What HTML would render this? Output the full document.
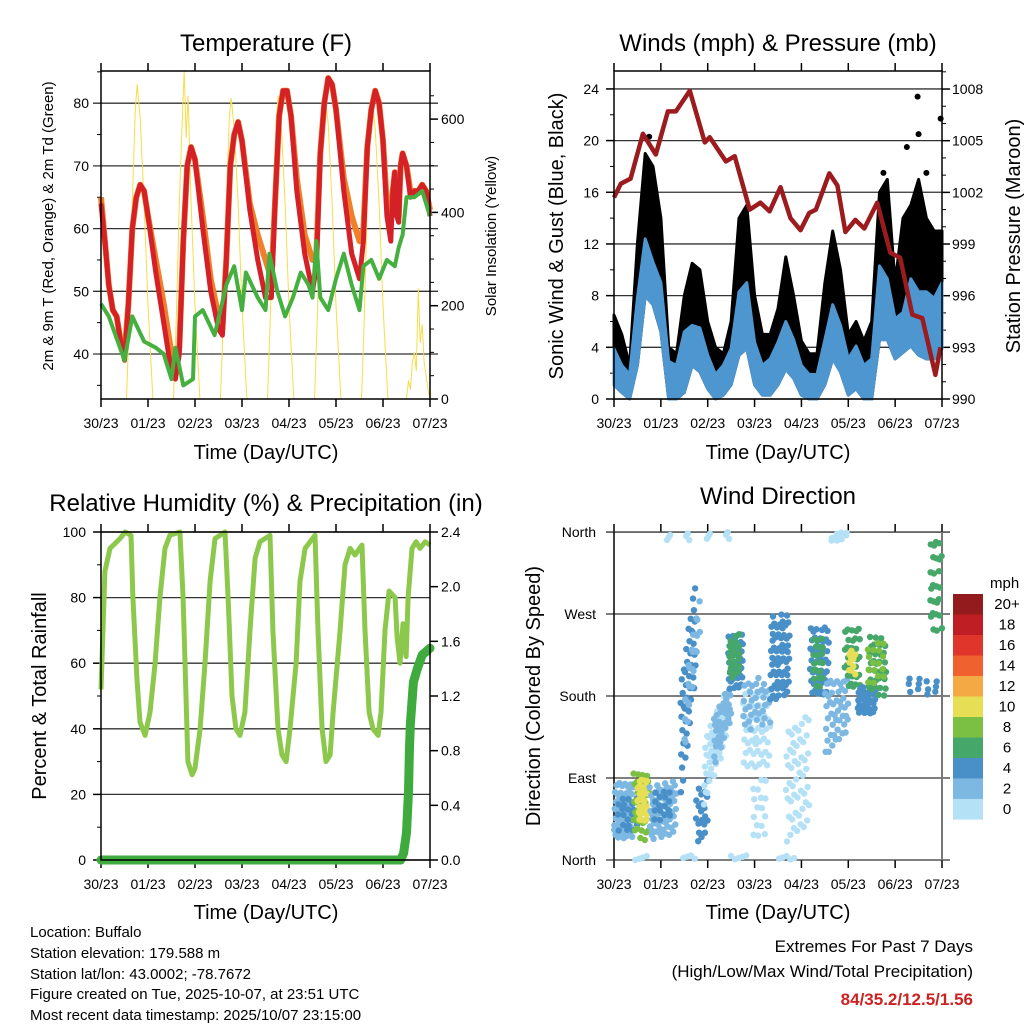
<!DOCTYPE html>
<html><head><meta charset="utf-8">
<style>
html,body{margin:0;padding:0;background:#fff;}
svg{display:block;font-family:"Liberation Sans",sans-serif;}
</style></head>
<body>
<svg id="chart" width="1024" height="1024" viewBox="0 0 1024 1024" xmlns="http://www.w3.org/2000/svg">
<rect width="1024" height="1024" fill="#fff"/>
<text x="266" y="51" font-size="24" text-anchor="middle">Temperature (F)</text>
<text x="778" y="51" font-size="24" text-anchor="middle">Winds (mph) &amp; Pressure (mb)</text>
<text x="266" y="511" font-size="24" text-anchor="middle">Relative Humidity (%) &amp; Precipitation (in)</text>
<text x="778" y="504" font-size="24" text-anchor="middle">Wind Direction</text>
<text x="266" y="459" font-size="20" text-anchor="middle">Time (Day/UTC)</text>
<text x="778" y="459" font-size="20" text-anchor="middle">Time (Day/UTC)</text>
<text x="266" y="919" font-size="20" text-anchor="middle">Time (Day/UTC)</text>
<text x="778" y="919" font-size="20" text-anchor="middle">Time (Day/UTC)</text>
<text transform="translate(53,226) rotate(-90)" font-size="15" text-anchor="middle">2m &amp; 9m T (Red, Orange) &amp; 2m Td (Green)</text>
<text transform="translate(496,236) rotate(-90)" font-size="15" text-anchor="middle">Solar Insolation (Yellow)</text>
<text transform="translate(563,236) rotate(-90)" font-size="20" text-anchor="middle">Sonic Wind &amp; Gust (Blue, Black)</text>
<text transform="translate(1020,236) rotate(-90)" font-size="20" text-anchor="middle">Station Pressure (Maroon)</text>
<text transform="translate(46,696) rotate(-90)" font-size="20" text-anchor="middle">Percent &amp; Total Rainfall</text>
<text transform="translate(540,696) rotate(-90)" font-size="20" text-anchor="middle">Direction (Colored By Speed)</text>
<g font-size="15">
<text x="30" y="937">Location: Buffalo</text>
<text x="30" y="958">Station elevation: 179.588 m</text>
<text x="30" y="979">Station lat/lon: 43.0002; -78.7672</text>
<text x="30" y="999">Figure created on Tue, 2025-10-07, at 23:51 UTC</text>
<text x="30" y="1020">Most recent data timestamp: 2025/10/07 23:15:00</text>
</g>
<g font-size="17" text-anchor="end">
<text x="973" y="952">Extremes For Past 7 Days</text>
<text x="973" y="977">(High/Low/Max Wind/Total Precipitation)</text>
<text x="973" y="1005" font-weight="bold" fill="#cc2222">84/35.2/12.5/1.56</text>
</g>
<g id="layer"></g>
</svg>
<script>
// ---------- data ----------
const dayLabels = ["30/23","01/23","02/23","03/23","04/23","05/23","06/23","07/23"];
const redT = [0,2,4,6,8,10,12,14,16,18,20,22,24,28,32,36,38,40,42,44,46,48,52,56,60,62,64,66,68,70,72,76,80,84,87,89,91,93,95,97,100,104,108,110,112,114,116,118,120,124,128,132,134,136,138,140,142,144,146,148,149,150,151,152,153,154,156,158,160,162,164,166,168];
const redV = [64,58,51,47,46,42,39,48,60,65,67,66,62,53,45,37,36,40,58,70,73,71,60,50,44,43,55,70,75,77,74,63,55,49,49,65,78,82,82,78,66,56,50,54,72,80,84,83,79,66,56,52,58,73,79,82,80,74,62,58,66,69,62,61,70,72,70,65,66,66,67,66,62];
const orangeV = [65,58,51,47,46,42,40,48,60,65,67,66,62,55,48,40,38,41,58,70,73,71,62,52,46,44,55,70,75,77,74,64,59,55,52,65,78,82,82,78,68,59,55,56,72,80,84,83,79,68,62,58,60,73,79,82,80,74,64,62,66,69,63,62,70,72,70,66,66,66,67,66,63];
const greenT = [0,4,12,16,22,28,32,36,38,42,47,48,52,58,64,68,72,74,80,84,86,90,94,98,102,106,108,110,112,116,120,124,128,132,134,138,142,146,150,152,154,156,160,164,168];
const greenV = [48,46,39,46,42,41,40,36,41,35,36,46,47,43,51,54,47,53,49,47,56,50,46,49,53,51,49,58,49,47,52,56,51,47,54,55,52,55,54,57,59,65,65,66,62];
const solarT = [0,13,14.5,16,17.5,18.5,20,22,24,26.5,37,38.5,40,41.5,42.5,43.5,44.5,46,48,50.5,61,62.5,64,65.5,66.5,68,70,72,74.5,85,86.5,88,89.5,90.5,92,94,96,98.5,109,110.5,112,113.5,114.5,116,118,120,122.5,133,134.5,136,137.5,138.5,140,142,144,146.5,156,157,158,159,160,161,162,163,164,165,166,167,168];
const solarV = [0,0,180,420,620,675,600,420,200,0,0,180,420,600,705,560,650,420,200,0,0,180,420,600,645,580,420,200,0,0,180,420,600,650,590,420,200,0,0,180,420,600,650,590,420,200,0,0,180,420,600,640,580,420,200,0,0,40,20,80,100,60,238,120,160,80,50,20,0];
const windT = [0,4,8,12,16,20,24,28,32,36,40,44,48,52,56,60,64,68,72,76,80,84,88,92,96,100,104,108,112,116,120,124,128,132,136,140,144,148,152,156,160,164,168];
const windHi = [3.9,2.6,1.9,7.8,12.4,10.6,9,2.9,2.6,5.2,5.7,5.5,3.4,1.9,2.6,3.9,8.3,9,4.4,2.6,3.1,4.4,6,4.6,2.6,1.9,1.9,4.6,7.3,5.7,3.1,4.1,2.6,3.1,10.3,9.3,6.2,6.7,9.3,8.3,8.3,7.8,9];
const windLo = [1.1,0.5,0,2.6,8,7.3,5.2,0,0,0.5,2.6,2.1,0.8,0,0.3,1.1,3.4,3.9,1.1,0.3,0.3,1.1,2.3,1.6,0.3,0,0,1.1,3.1,2.1,0.3,0.8,0,0,4.6,4.6,3.1,3.6,4.1,3.4,3.1,3.1,3.9];
const gustHi = [6.5,5,2.6,12,19,18,14,4,3.5,8,10.5,10,6,4,3.5,6,14,15,8,5,5,7,11,8,4.5,3.5,3.5,9,13,10,5,6,4.5,6,16,17,9,14,15,17,14,13,13];
const gustOutT = [18,150,155.5,156,160,167.3,138];
const gustOutV = [20.3,19.5,23.4,20.5,17.5,21.7,17.5];
const presT = [0,3.5,8.5,14.8,21.4,27.6,31.7,38.8,46.5,49,57.3,61.8,69.5,75,79.7,85.3,90.4,95.5,100,103.4,110.3,114.4,118.5,123.6,128.2,134.8,141.5,146.6,152.8,157.9,164.6,167.2];
const presV = [1001.7,1002.5,1002.8,1005.4,1004.2,1006.7,1006.7,1007.9,1004.9,1005.2,1003.8,1004.1,1001,1001.4,1000.9,1002.3,1000.5,999.8,1000.8,1001,1003.1,1002.4,999.7,1000.4,999.9,1001.4,998.5,998.2,994.9,994.7,991.4,993];
const rhT = [0,2,4.6,9.7,12.3,15.3,16.3,18.4,19.9,22.5,25,27.6,30.1,32.7,35.2,40.3,41.9,43.4,44.4,46.5,48,50.6,53.1,55.7,58.2,63.3,64.9,66.9,68.9,71,73.5,76.1,78.7,81.2,86.3,87.8,90.4,92.4,94.5,96.5,99.6,101.6,104.2,109.3,110.8,112.9,114.9,117,118.5,122.1,124.6,127.2,129.7,133.3,134.8,136.9,138.9,141.5,143,145,147.1,150.2,151.2,152.7,154.2,155.3,155.8,156.8,158.8,160.9,162.9,165.5,168];
const rhV = [52,88,95,98,100,99,80,55,42,38,45,60,80,95,99,100,80,50,30,26,28,40,60,85,98,100,80,50,40,38,45,70,92,97,99,70,40,32,30,40,60,85,95,99,70,40,30,32,45,70,90,95,93,96,70,45,40,38,45,70,82,80,68,60,72,65,62,80,95,97,95,97,96];
const precT = [0,153,154.5,156,157,157.5,158,159.5,161.5,164,168];
const precV = [0,0,0.05,0.2,0.5,0.8,1.0,1.3,1.4,1.5,1.55];
// wind direction clusters (time start/end hours, direction bounds deg, speed mph, point count)
const cT0  = [0,2,10,12,18,20,34,36,42,46,50,58,59,66,66,70,80,88,100,102,108,118,120,124,130,130,162,20,110,0,150];
const cT1  = [10,12,18,17,32,30,42,44,48,58,60,66,65,80,80,78,90,100,110,108,120,126,124,134,140,140,168,60,120,100,168];
const cLo0 = [20,30,25,40,20,40,60,110,10,60,90,185,200,100,140,20,175,10,180,190,110,190,200,160,180,190,250,350,350,0,180];
const cHi0 = [85,70,95,90,80,75,200,180,80,130,150,250,240,190,200,90,270,140,260,250,200,260,230,190,245,240,360,360,360,5,200];
const cLo1 = [20,30,20,40,30,40,200,250,30,130,150,190,200,100,150,20,180,30,180,190,140,190,200,160,180,190,250,350,350,0,180];
const cHi1 = [85,70,95,90,90,75,320,300,90,190,200,255,250,190,200,90,270,160,260,250,200,260,230,195,245,240,360,360,360,5,200];
const cSpd = [2,4,8,10,2,4,4,2,4,0,2,4,6,0,2,0,4,0,4,6,2,6,10,4,6,8,6,0,0,0,4];
const cN   = [55,20,40,32,60,16,45,25,20,55,32,40,26,50,32,16,60,50,45,20,45,32,10,32,32,16,26,12,10,18,12];
const speedBins = ["20+","18","16","14","12","10","8","6","4","2","0"];
const speedColors = ["#931a1d","#bf1e24","#e0352a","#ef6230","#f5a945","#e6de55","#7cc043","#46a76a","#4a90c8","#7db8e3","#b5e1f7"];

// ---------- scales ----------
const NS="http://www.w3.org/2000/svg";
const layer=document.getElementById('layer');
const xT=h=>101+h*329/168;
const xW=h=>614+h*328/168;
const yTemp=v=>354-(v-40)*6.27;
const ySol=s=>399-s*0.4665;
const yWind=v=>399-v*12.92;
const yPres=p=>399-(p-990)*17.22;
const yRH=v=>860-v*3.28;
const yPrec=p=>860-p*136.67;
const yDir=d=>860-d*0.911;
function mk(tag,parent){const e=document.createElementNS(NS,tag);(parent||layer).appendChild(e);return e;}
function pathFrom(ts,vs,fx,fy){return ts.map((t,i)=>(i?'L':'M')+fx(t).toFixed(1)+','+fy(vs[i]).toFixed(1)).join('');}
function ln(x1,y1,x2,y2,col,w,p){const e=mk('line',p);e.setAttribute('x1',x1);e.setAttribute('y1',y1);e.setAttribute('x2',x2);e.setAttribute('y2',y2);e.setAttribute('stroke',col);e.setAttribute('stroke-width',w);return e;}
function tx(x,y,s,anchor,size,p){const e=mk('text',p);e.setAttribute('x',x);e.setAttribute('y',y);e.setAttribute('text-anchor',anchor);e.setAttribute('font-size',size);e.textContent=s;return e;}

function frame(x0,x1,y0,y1,fx,name){
  const g=mk('g');
  
  
  for(let d=0;d<=7;d++){
    const x=fx(d*24);
    const t=ln(x,y1,x,y1+8,'#000',1.5,g);
    
    
    ln(x,y0,x,y0-8,'#000',1.5,g);
    const l=tx(x,y1+29,dayLabels[d],'middle',14,g);
    
    
  }
  return g;
}
function hgrid(g,ys,x0,x1,ext){ys.forEach(y=>{const l=ln(x0-ext,y,x1+ext,y,'#333',1.3,g);});}

// ===== Temperature panel =====
(function(){
  const g=frame(71,399,71,399,xT,'temperature');
  const ticks=[40,50,60,70,80];
  hgrid(g,ticks.map(yTemp),101,430,8);
  ticks.forEach(v=>{const l=tx(89,yTemp(v)+5,String(v),'end',14,g);});
  [35,45,55,65,75,85].forEach(v=>ln(97,yTemp(v),101,yTemp(v),'#000',1,g));
  [0,200,400,600].forEach(v=>{ln(430,ySol(v),438,ySol(v),'#000',1.5,g);const l=tx(441,ySol(v)+5,String(v),'start',14,g);});
  [50,100,150,250,300,350,450,500,550,650].forEach(v=>ln(430,ySol(v),434,ySol(v),'#000',1,g));
  const sol=mk('path');sol.setAttribute('d',pathFrom(solarT,solarV,xT,ySol));sol.setAttribute('fill','none');sol.setAttribute('stroke','#f7dc4a');sol.setAttribute('stroke-width','1');
  
  
  const o=mk('path');o.setAttribute('d',pathFrom(redT,orangeV,xT,yTemp));o.setAttribute('fill','none');o.setAttribute('stroke','#f07f2a');o.setAttribute('stroke-width','6');o.setAttribute('stroke-linejoin','round');
  
  
  const r=mk('path');r.setAttribute('d',pathFrom(redT,redV,xT,yTemp));r.setAttribute('fill','none');r.setAttribute('stroke','#d42027');r.setAttribute('stroke-width','5');r.setAttribute('stroke-linejoin','round');
  
  
  const gr=mk('path');gr.setAttribute('d',pathFrom(greenT,greenV,xT,yTemp));gr.setAttribute('fill','none');gr.setAttribute('stroke','#45b03f');gr.setAttribute('stroke-width','4');gr.setAttribute('stroke-linejoin','round');
  
  
  const b=mk('rect');b.setAttribute('x',101);b.setAttribute('y',71);b.setAttribute('width',329);b.setAttribute('height',328);b.setAttribute('fill','none');b.setAttribute('stroke','#000');b.setAttribute('stroke-width','1.5');
  
  
})();

// ===== Winds panel =====
(function(){
  const g=frame(71,399,71,399,xW,'winds');
  const ticks=[0,4,8,12,16,20,24];
  hgrid(g,ticks.map(yWind),614,942,0);
  ticks.forEach(v=>{ln(606,yWind(v),614,yWind(v),'#000',1.5,g);const l=tx(599,yWind(v)+5,String(v),'end',14,g);});
  [2,6,10,14,18,22].forEach(v=>ln(610,yWind(v),614,yWind(v),'#000',1,g));
  [990,993,996,999,1002,1005,1008].forEach(v=>{ln(942,yPres(v),950,yPres(v),'#000',1.5,g);const l=tx(952,yPres(v)+5,String(v),'start',14,g);});
  for(let v=991;v<1010;v++){if((v-990)%3)ln(942,yPres(v),946,yPres(v),'#000',1,g);}
  let d='M'+windT.map((t,i)=>xW(t).toFixed(1)+','+yWind(gustHi[i]).toFixed(1)).join('L');
  for(let i=windT.length-1;i>=0;i--)d+='L'+xW(windT[i]).toFixed(1)+','+yWind(windLo[i]).toFixed(1);
  const gb=mk('path');gb.setAttribute('d',d+'Z');gb.setAttribute('fill','#000');gb.setAttribute('stroke','#000');gb.setAttribute('stroke-width','3');gb.setAttribute('stroke-linejoin','round');
  
  
  gustOutT.forEach((t,i)=>{const c=mk('circle');c.setAttribute('cx',xW(t));c.setAttribute('cy',yWind(gustOutV[i]));c.setAttribute('r',3);c.setAttribute('fill','#000');
    
    });
  let d2='M'+windT.map((t,i)=>xW(t).toFixed(1)+','+yWind(windHi[i]).toFixed(1)).join('L');
  for(let i=windT.length-1;i>=0;i--)d2+='L'+xW(windT[i]).toFixed(1)+','+yWind(windLo[i]).toFixed(1);
  const wb=mk('path');wb.setAttribute('d',d2+'Z');wb.setAttribute('fill','#4e96d0');wb.setAttribute('stroke','#4e96d0');wb.setAttribute('stroke-width','3');wb.setAttribute('stroke-linejoin','round');
  
  
  const p=mk('path');p.setAttribute('d',pathFrom(presT,presV,xW,yPres));p.setAttribute('fill','none');p.setAttribute('stroke','#9b1b1e');p.setAttribute('stroke-width','4.5');p.setAttribute('stroke-linejoin','round');
  
  
  const b=mk('rect');b.setAttribute('x',614);b.setAttribute('y',71);b.setAttribute('width',328);b.setAttribute('height',328);b.setAttribute('fill','none');b.setAttribute('stroke','#000');b.setAttribute('stroke-width','1.5');
  
  
})();

// ===== RH panel =====
(function(){
  const g=frame(532,860,532,860,xT,'humidity');
  const ticks=[0,20,40,60,80,100];
  hgrid(g,ticks.map(yRH),101,430,0);
  ticks.forEach(v=>{ln(93,yRH(v),101,yRH(v),'#000',1.5,g);const l=tx(86,yRH(v)+5,String(v),'end',14,g);});
  [10,30,50,70,90].forEach(v=>ln(97,yRH(v),101,yRH(v),'#000',1,g));
  [0,0.4,0.8,1.2,1.6,2.0,2.4].forEach(v=>{ln(430,yPrec(v),438,yPrec(v),'#000',1.5,g);const l=tx(441,yPrec(v)+5,v.toFixed(1),'start',14,g);});
  const r=mk('path');r.setAttribute('d',pathFrom(rhT,rhV,xT,yRH));r.setAttribute('fill','none');r.setAttribute('stroke','#8cc84b');r.setAttribute('stroke-width','5');r.setAttribute('stroke-linejoin','round');
  
  
  const pr=mk('path');pr.setAttribute('d',pathFrom(precT,precV,xT,yPrec));pr.setAttribute('fill','none');pr.setAttribute('stroke','#3faa3d');pr.setAttribute('stroke-width','9');pr.setAttribute('stroke-linejoin','round');pr.setAttribute('stroke-linecap','round');
  
  
  const b=mk('rect');b.setAttribute('x',101);b.setAttribute('y',532);b.setAttribute('width',329);b.setAttribute('height',328);b.setAttribute('fill','none');b.setAttribute('stroke','#000');b.setAttribute('stroke-width','1.5');
  
  
})();

// ===== Wind direction panel =====
(function(){
  const g=frame(532,860,532,860,xW,'direction');
  const dirs=[[0,'North'],[90,'East'],[180,'South'],[270,'West'],[360,'North']];
  hgrid(g,dirs.map(d=>yDir(d[0])),606,950,0);
  dirs.forEach(d=>{const l=tx(596,yDir(d[0])+5,d[1],'end',14,g);});
  ln(614,532,614,860,'#000',1.5,g);
  ln(942,532,942,860,'#777',2,g);
  const pts=mk('g');
  
  
  for(let c=0;c<cT0.length;c++){
    const col=speedColors[10-cSpd[c]/2];
    const n=cN[c];
    for(let k=0;k<n;k++){
      const u=((k+1)*0.7548777+c*0.21)%1, v=((k+1)*0.5698403+c*0.37)%1;
      const t=cT0[c]+u*(cT1[c]-cT0[c]);
      const lo=cLo0[c]+(cLo1[c]-cLo0[c])*u, hi=cHi0[c]+(cHi1[c]-cHi0[c])*u;
      const dd=lo+v*(hi-lo);
      const e=mk('circle',pts);e.setAttribute('cx',xW(t).toFixed(1));e.setAttribute('cy',yDir(dd).toFixed(1));e.setAttribute('r','3.2');e.setAttribute('fill',col);
      
      
    }
  }
  const lg=mk('g');
  
  
  const lt=tx(990,588,'mph','start',15,lg);
  speedBins.forEach((s,i)=>{
    const r=mk('rect',lg);r.setAttribute('x',953);r.setAttribute('y',594+i*20.5);r.setAttribute('width',30);r.setAttribute('height',20.6);r.setAttribute('fill',speedColors[i]);
    
    
    const l=tx(1007,594+i*20.5+10+5,s,'middle',15,lg);
    
    
  });
})();
</script>
</body></html>
